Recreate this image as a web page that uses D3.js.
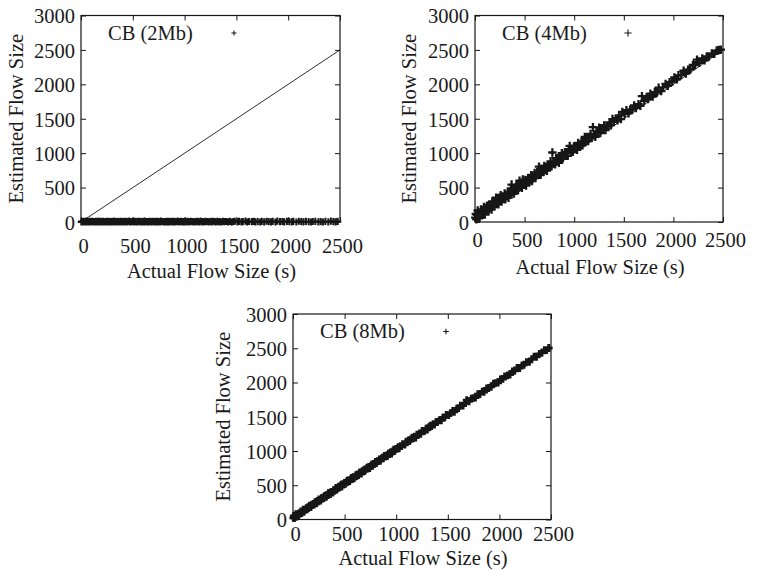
<!DOCTYPE html>
<html>
<head>
<meta charset="utf-8">
<script src="https://cdn.jsdelivr.net/npm/d3@7"></script>
<style>
  html, body { margin: 0; padding: 0; background: #fff; }
  svg { display: block; }
  text { font-family: "Liberation Serif", "Times New Roman", serif; fill: #1a1a1a; }
</style>
</head>
<body>
<svg id="chart" width="758" height="570"></svg>
<script>
// Actual flow sizes (s), shared by all three sketches
const actualSize = [
  3, 8, 14, 19, 27, 33, 40, 46, 55, 61,
  68, 77, 84, 90, 99, 106, 113, 121, 128, 137,
  144, 150, 159, 167, 174, 181, 190, 198, 205, 213,
  220, 229, 236, 244, 251, 259, 268, 275, 283, 290,
  299, 306, 314, 323, 330, 338, 345, 354, 362, 369,
  377, 386, 393, 401, 410, 417, 425, 434, 441, 449,
  458, 466, 473, 482, 490, 499, 507, 515, 524, 532,
  541, 549, 558, 566, 575, 584, 592, 601, 610, 618,
  627, 636, 645, 653, 662, 671, 680, 689, 698, 707,
  716, 725, 734, 743, 752, 762, 771, 780, 790, 799,
  808, 818, 827, 837, 846, 856, 866, 875, 885, 895,
  905, 915, 925, 935, 945, 955, 966, 976, 986, 997,
  1008, 1018, 1029, 1040, 1051, 1062, 1073, 1084, 1095, 1107,
  1118, 1130, 1141, 1153, 1165, 1177, 1189, 1201, 1213, 1226,
  1238, 1251, 1263, 1276, 1289, 1302, 1316, 1329, 1343, 1357,
  1371, 1386, 1400,
  1418, 1437, 1452, 1471, 1485, 1509, 1526, 1548, 1563, 1587,
  1604, 1622, 1648, 1667, 1683, 1706, 1729, 1745, 1768, 1791,
  1812, 1834, 1851, 1877, 1896, 1921, 1943, 1962, 1988, 2010,
  2034, 2051, 2079, 2103, 2126, 2148, 2171, 2197, 2219, 2238,
  2262, 2291, 2314, 2336, 2359, 2387, 2412, 2436, 2458, 2478
];

// Estimated flow sizes with a 2Mb counter budget
const est2Mb = [
  0, 6, 2, 10, 4, 0, 8, 3, 12, 1,
  5, 0, 9, 2, 7, 11, 0, 4, 6, 1,
  8, 3, 0, 12, 5, 2, 9, 0, 6, 10,
  1, 7, 4, 0, 11, 3, 8, 2, 5, 0,
  9, 1, 6, 12, 0, 4, 7, 2, 10, 3,
  0, 8, 5, 1, 11, 6, 2, 9, 0, 4,
  7, 12, 3, 0, 6, 10, 1, 5, 8, 2,
  0, 9, 4, 11, 2, 6, 0, 8, 3, 12,
  5, 1, 7, 0, 10, 4, 2, 9, 6, 0,
  11, 3, 8, 1, 5, 0, 12, 4, 7, 2,
  6, 0, 9, 3, 11, 1, 5, 8, 0, 10,
  2, 7, 4, 12, 0, 6, 9, 1, 5, 3,
  8, 0, 11, 2, 6, 10, 4, 0, 7, 1,
  9, 5, 0, 12, 3, 7, 1, 10, 4, 6,
  0, 8, 2, 11, 5, 1, 9, 3, 6, 0,
  10, 4, 7,
  2, 9, 0, 6, 11, 3, 8, 1, 5, 12,
  0, 7, 4, 10, 2, 6, 0, 9, 3, 11,
  5, 1, 8, 0, 12, 4, 7, 2, 10, 6,
  3, 9, 0, 11, 5, 1, 8, 4, 0, 7,
  10, 2, 6, 0, 9, 3, 12, 5, 1, 8
];

// Estimated flow sizes with a 4Mb counter budget
const est4Mb = [
  63, 118, 39, 104, 167, 73, 140, 61, 130, 181,
  98, 172, 139, 220, 109, 186, 158, 236, 193, 157,
  249, 200, 249, 182, 299, 251, 225, 298, 265, 353,
  260, 314, 256, 354, 316, 389, 298, 370, 333, 365,
  414, 331, 394, 378, 435, 353, 435, 394, 487, 544,
  437, 486, 413, 486, 455, 537, 495, 464, 551, 599,
  513, 561, 498, 617, 560, 539, 612, 530, 604, 592,
  641, 584, 633, 681, 595, 674, 642, 711, 640, 688,
  722, 681, 805, 713, 687, 776, 760, 724, 813, 762,
  801, 745, 834, 793, 822, 882, 811, 1010, 880, 864,
  838, 928, 882, 922, 861, 951, 926, 1000, 925, 970,
  1010, 960, 1005, 960, 1060, 1105, 1026, 1066, 1021, 1097,
  1058, 1103, 1049, 1150, 1116, 1102, 1168, 1114, 1170, 1237,
  1178, 1230, 1176, 1233, 1280, 1222, 1379, 1271, 1238, 1321,
  1293, 1371, 1293, 1361, 1349, 1402, 1336, 1404, 1388, 1447,
  1406, 1496, 1465,
  1498, 1477, 1547, 1496, 1600, 1569, 1626, 1578, 1633, 1637,
  1694, 1657, 1713, 1687, 1828, 1761, 1809, 1785, 1863, 1821,
  1887, 1879, 1951, 1902, 1956, 2006, 1978, 2032, 2038, 2100,
  2074, 2131, 2134, 2198, 2156, 2213, 2216, 2282, 2279, 2358,
  2312, 2376, 2349, 2406, 2404, 2447, 2442, 2491, 2498, 2503
];

// Estimated flow sizes with an 8Mb counter budget
const est8Mb = [
  23, 53, 22, 49, 79, 47, 78, 71, 60, 94,
  86, 117, 94, 118, 144, 112, 145, 142, 166, 149,
  179, 165, 201, 191, 182, 217, 209, 228, 216, 253,
  242, 236, 270, 260, 292, 285, 277, 312, 303, 321,
  312, 345, 338, 329, 363, 356, 387, 381, 372, 404,
  398, 394, 429, 418, 440, 461, 437, 460, 479, 464,
  487, 507, 482, 515, 510, 536, 521, 540, 567, 550,
  573, 560, 585, 606, 591, 619, 599, 624, 648, 637,
  657, 648, 689, 677, 670, 707, 701, 728, 712, 735,
  757, 742, 767, 752, 778, 800, 784, 810, 812, 842,
  823, 852, 852, 877, 856, 885, 902, 893, 927, 918,
  936, 927, 964, 955, 980, 963, 993, 1020, 1002, 1030,
  1032, 1058, 1040, 1072, 1070, 1099, 1099, 1093, 1137, 1128,
  1153, 1144, 1170, 1194, 1183, 1210, 1196, 1239, 1237, 1256,
  1251, 1293, 1290, 1295, 1325, 1312, 1347, 1369, 1365, 1391,
  1387, 1424, 1425,
  1448, 1449, 1488, 1491, 1526, 1524, 1554, 1586, 1573, 1620,
  1626, 1662, 1662, 1698, 1743, 1724, 1764, 1771, 1780, 1830,
  1832, 1867, 1862, 1914, 1920, 1937, 1983, 1990, 1997, 2044,
  2052, 2089, 2104, 2116, 2162, 2170, 2212, 2212, 2249, 2258,
  2297, 2303, 2342, 2376, 2376, 2418, 2434, 2474, 2472, 2504
];

const panelLabels = ["CB (2Mb)", "CB (4Mb)", "CB (8Mb)"];
const xTicks = [0, 500, 1000, 1500, 2000, 2500];
const yTicks = [0, 500, 1000, 1500, 2000, 2500, 3000];
const xDomain = [0, 2500];
const yDomain = [0, 3000];
const diagonal = [0, 2500];   // reference line: estimated = actual
const xTitle = "Actual Flow Size (s)";
const yTitle = "Estimated Flow Size";

// Per-panel geometry and mark styling
const layouts = [
  { left: 81,  right: 340, top: 15.5, bottom: 222,   tickBase: 253, titleBase: 278, yTitleX: 16,  mark: 3.6, markW: 2.0, keyMark: 2.6 },
  { left: 475, right: 723, top: 15.5, bottom: 222,   tickBase: 247, titleBase: 274, yTitleX: 409, mark: 4.2, markW: 2.3, keyMark: 3.6 },
  { left: 293, right: 551, top: 314,  bottom: 519.5, tickBase: 541, titleBase: 565, yTitleX: 223, mark: 3.9, markW: 2.9, keyMark: 2.8 }
];
const estimates = [est2Mb, est4Mb, est8Mb];

const ink = "#161616";
const fontSize = "20.5px";
const svg = d3.select("#chart");

function plusPath(cx, cy, r) {
  return `M${cx - r},${cy}H${cx + r}M${cx},${cy - r}V${cy + r}`;
}

layouts.forEach((L, i) => {
  const est = estimates[i];
  const x = d3.scaleLinear().domain(xDomain).range([L.left, L.right]);
  const y = d3.scaleLinear().domain(yDomain).range([L.bottom, L.top]);
  const g = svg.append("g");

  // y = x reference line
  const line = d3.line().x(d => x(d)).y(d => y(d));
  g.append("path")
    .attr("d", line(diagonal))
    .attr("fill", "none")
    .attr("stroke", ink)
    .attr("stroke-width", 0.9);

  // scatter of (actual, estimated) as "+" marks
  const pts = actualSize.map((a, k) => [a, est[k]]);
  g.append("path")
    .attr("d", pts.map(p => plusPath(x(p[0]), y(p[1]), L.mark)).join(""))
    .attr("fill", "none")
    .attr("stroke", ink)
    .attr("stroke-width", L.markW);

  // axes with inward ticks, mirrored on the opposite sides
  const tick = 5;
  const fmt = d3.format("d");
  const bottomAxis = g.append("g")
    .attr("transform", `translate(0,${L.bottom})`)
    .call(d3.axisBottom(x).tickValues(xTicks).tickFormat(fmt).tickSizeInner(-tick).tickSizeOuter(0).tickPadding(0));
  bottomAxis.selectAll("text")
    .attr("y", L.tickBase - L.bottom).attr("dy", null).attr("dx", 2);

  g.append("g")
    .attr("transform", `translate(0,${L.top})`)
    .call(d3.axisTop(x).tickValues(xTicks).tickSizeInner(-tick).tickSizeOuter(0).tickFormat(""));

  const leftAxis = g.append("g")
    .attr("transform", `translate(${L.left},0)`)
    .call(d3.axisLeft(y).tickValues(yTicks).tickFormat(fmt).tickSizeInner(-tick).tickSizeOuter(0).tickPadding(6));
  leftAxis.selectAll("text").attr("dy", "0.36em");

  g.append("g")
    .attr("transform", `translate(${L.right},0)`)
    .call(d3.axisRight(y).tickValues(yTicks).tickSizeInner(-tick).tickSizeOuter(0).tickFormat(""));

  g.selectAll(".domain").remove();
  g.selectAll(".tick line").attr("stroke", ink);
  g.selectAll(".tick text")
    .attr("fill", ink)
    .style("font-family", '"Liberation Serif", serif')
    .style("font-size", fontSize);

  // frame
  g.append("rect")
    .attr("x", L.left).attr("y", L.top)
    .attr("width", L.right - L.left).attr("height", L.bottom - L.top)
    .attr("fill", "none").attr("stroke", ink).attr("stroke-width", 1.2);

  // key
  g.append("text")
    .attr("x", L.left + 27).attr("y", L.top + 24)
    .style("font-size", fontSize)
    .text(panelLabels[i]);
  g.append("path")
    .attr("d", plusPath(L.left + 153, L.top + 17.5, L.keyMark))
    .attr("fill", "none").attr("stroke", ink).attr("stroke-width", 1.1);

  // axis titles
  g.append("text")
    .attr("x", (L.left + L.right) / 2 + 1).attr("y", L.titleBase)
    .attr("text-anchor", "middle")
    .style("font-size", fontSize)
    .text(xTitle);
  g.append("text")
    .attr("transform", `translate(${L.yTitleX + 7},${(L.top + L.bottom) / 2}) rotate(-90)`)
    .attr("text-anchor", "middle")
    .style("font-size", fontSize)
    .text(yTitle);
});
</script>
</body>
</html>
